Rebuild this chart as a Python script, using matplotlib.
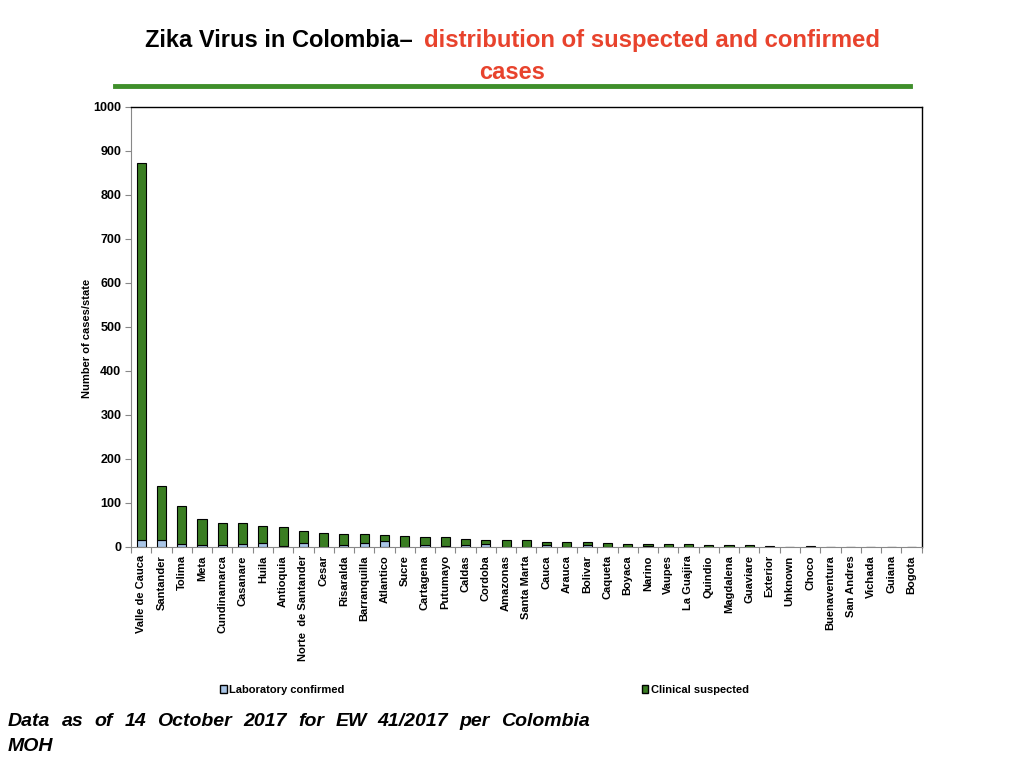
import matplotlib
matplotlib.use('Agg')
import matplotlib.pyplot as plt
from matplotlib.patches import Patch
import numpy as np

plt.rcParams['font.family'] = ['Liberation Sans', 'DejaVu Sans']

states = ['Valle de Cauca', 'Santander', 'Tolima', 'Meta', 'Cundinamarca', 'Casanare',
          'Huila', 'Antioquia', 'Norte  de Santander', 'Cesar', 'Risaralda', 'Barranquilla',
          'Atlantico', 'Sucre', 'Cartagena', 'Putumayo', 'Caldas', 'Cordoba', 'Amazonas',
          'Santa Marta', 'Cauca', 'Arauca', 'Bolivar', 'Caqueta', 'Boyaca', 'Narino',
          'Vaupes', 'La Guajira', 'Quindio', 'Magdalena', 'Guaviare', 'Exterior', 'Unknown',
          'Choco', 'Buenaventura', 'San Andres', 'Vichada', 'Guiana', 'Bogota']
confirmed = [16, 16, 7, 4, 4, 7, 10, 2, 10, 0, 4, 10, 14, 0, 4, 2, 4, 7, 0,
             0, 4, 0, 4, 0, 0, 3, 0, 0, 0, 0, 1, 0, 0, 0, 0, 0, 0, 0, 0]
suspected = [857, 123, 86, 60, 51, 48, 38, 43, 26, 32, 26, 20, 13, 25, 19, 21, 14, 9, 16,
             16, 7, 11, 7, 9, 7, 4, 7, 7, 5, 5, 3.5, 3, 0, 3, 0, 0, 0, 0, 0]

green = '#3a7d22'
blue = '#a9c5e6'

fig = plt.figure(figsize=(10.24, 7.68), dpi=100)
ax = fig.add_axes([0.128, 0.2878, 0.772, 0.573])

x = np.arange(len(states))
ax.bar(x, confirmed, width=0.45, color=blue, edgecolor='black', linewidth=0.8)
ax.bar(x, suspected, width=0.45, bottom=confirmed, color=green, edgecolor='black', linewidth=0.8)

ax.set_xlim(-0.5, len(states) - 0.5)
ax.set_ylim(0, 1000)
ax.set_yticks(range(0, 1001, 100))
ax.tick_params(axis='y', labelsize=9, length=4, color='#888888', pad=3)
for t in ax.get_yticklabels():
    t.set_fontweight('bold')

# ticks between categories, labels at centres
ax.set_xticks(np.arange(-0.5, len(states), 1.0))
ax.set_xticklabels([])
ax.set_xticks(x, minor=True)
ax.set_xticklabels(states, minor=True, rotation=90, fontsize=8, fontweight='bold')
ax.tick_params(axis='x', which='major', length=4, color='#888888')
ax.tick_params(axis='x', which='minor', length=0, pad=6)

ax.spines['left'].set_color('#888888')
ax.spines['bottom'].set_color('#888888')
ax.spines['top'].set_linewidth(1.0)
ax.spines['right'].set_linewidth(1.0)

ax.set_ylabel('Number of cases/state', fontsize=8, fontweight='bold')
ax.yaxis.set_label_coords(-0.05, 0.475)

# title
tfont = ['Liberation Sans Narrow', 'Liberation Sans', 'DejaVu Sans']
fig.text(0.403, 0.947, 'Zika Virus in Colombia\u2013', ha='right', va='center', fontsize=17,
         fontweight='bold', family=tfont, color='black')
fig.text(0.414, 0.947, 'distribution of suspected and confirmed', ha='left', va='center',
         fontsize=17.2, fontweight='bold', family=tfont, color='#e8432d')
fig.text(0.5, 0.906, 'cases', ha='center', va='center', fontsize=17, fontweight='bold',
         family=tfont, color='#e8432d')
fig.add_artist(plt.Line2D([0.112, 0.889], [0.888, 0.888], color='#3f8f2b', linewidth=3.5))

# legend, two entries placed apart
lprop = {'family': tfont, 'weight': 'bold', 'size': 8}
fig.legend(handles=[Patch(facecolor=blue, edgecolor='black', label='Laboratory confirmed')],
           loc='center left', bbox_to_anchor=(0.205, 0.1016), frameon=False,
           handlelength=0.6, handleheight=0.8, handletextpad=0.2, prop=lprop)
fig.legend(handles=[Patch(facecolor=green, edgecolor='black', label='Clinical suspected')],
           loc='center left', bbox_to_anchor=(0.617, 0.1016), frameon=False,
           handlelength=0.6, handleheight=0.8, handletextpad=0.2, prop=lprop)

# footnote, justified
words = 'Data as of 14 October 2017 for EW 41/2017 per Colombia'.split()
fig.canvas.draw()
r = fig.canvas.get_renderer()
arts = [fig.text(0, 0.061, w, fontsize=14, fontweight='bold', style='italic', family=tfont,
                 ha='left', va='center') for w in words]
widths = [a.get_window_extent(r).width for a in arts]
x0, x1 = 8, 590
gap = (x1 - x0 - sum(widths)) / (len(words) - 1)
pos = x0
for a, w in zip(arts, widths):
    a.set_x(pos / 1024)
    pos += w + gap
fig.text(8 / 1024, 0.028, 'MOH', fontsize=14, fontweight='bold', style='italic', family=tfont,
         ha='left', va='center')

fig.savefig('out.png', dpi=100)
